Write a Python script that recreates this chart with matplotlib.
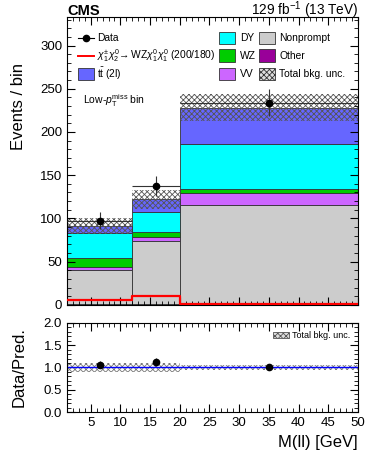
import numpy as np
import matplotlib.pyplot as plt
from matplotlib.patches import Patch, Rectangle
from matplotlib.lines import Line2D
from matplotlib.ticker import MultipleLocator

plt.rcParams['font.family'] = ['Liberation Sans', 'DejaVu Sans']
plt.rcParams['mathtext.fontset'] = 'custom'
plt.rcParams['mathtext.rm'] = 'Liberation Sans'
plt.rcParams['mathtext.it'] = 'Liberation Sans:italic'
plt.rcParams['hatch.linewidth'] = 0.6

# bins in M(ll)
edges = [1, 12, 20, 50]

# background yields (stacked bottom -> top)
other = [1.0, 1.0, 1.0]
nonprompt = [39.0, 73.0, 114.0]
vv = [3.5, 5.0, 14.5]
wz = [10.5, 5.0, 5.0]
dy = [29.0, 23.0, 51.5]
ttbar = [8.0, 15.0, 42.0]
unc = [9.0, 11.0, 15.5]

signal = [5.4, 10.0, 0.5]

data = [97.3, 137.6, 234.0]
data_err = [10.0, 12.0, 15.5]

ratio = [1.06, 1.12, 1.02]
ratio_err = [0.08, 0.09, 0.06]
ratio_unc = [0.11, 0.10, 0.06]

fig = plt.figure(figsize=(3.74, 4.53), dpi=100)
ax = fig.add_axes([0.179, 0.327, 0.778, 0.6355])
rax = fig.add_axes([0.179, 0.090, 0.778, 0.1976])

lefts = np.array(edges[:-1])
widths = np.diff(edges)
centers = lefts + widths / 2.0

stack = [(other, '#990099'),
         (nonprompt, '#cccccc'),
         (vv, '#cc66ff'),
         (wz, '#00cc00'),
         (dy, '#00ffff'),
         (ttbar, '#6666ff')]

bottom = np.zeros(3)
for vals, col in stack:
    ax.bar(lefts, vals, width=widths, bottom=bottom, align='edge', color=col,
           edgecolor='#333333', linewidth=0.6)
    bottom = bottom + np.array(vals)
total = bottom

ax.bar(lefts, 2 * np.array(unc), width=widths, bottom=total - np.array(unc),
       align='edge', facecolor='none', edgecolor='#555555', hatch='xxxxxx',
       linewidth=0)

sig_x = edges
sig_y = signal + [signal[-1]]
ax.step(sig_x, sig_y, where='post', color='red', linewidth=1.6, zorder=5)

ax.errorbar(centers, data, yerr=data_err, xerr=widths / 2.0, fmt='o', color='black',
            ecolor='#333333', elinewidth=0.8, markersize=4.5, zorder=6)

ax.set_xlim(1, 50)
ax.set_ylim(0, 333)
ax.set_ylabel('Events / bin', fontsize=12)
ax.yaxis.set_label_coords(-0.14, 0.69)
ax.yaxis.set_major_locator(MultipleLocator(50))
ax.yaxis.set_minor_locator(MultipleLocator(10))
ax.xaxis.set_major_locator(MultipleLocator(5))
ax.xaxis.set_minor_locator(MultipleLocator(1))
ax.tick_params(axis='both', which='both', direction='in', top=True, right=True,
               labelsize=9.5)
ax.tick_params(which='major', length=6)
ax.tick_params(which='minor', length=3)
ax.tick_params(axis='x', labelbottom=False)

ax.text(0.0, 1.007, 'CMS', transform=ax.transAxes, fontsize=10.5, fontweight='bold',
        ha='left', va='baseline')
ax.text(1.0, 1.007, r'129 fb$^{-1}$ (13 TeV)', transform=ax.transAxes, fontsize=9.8,
        ha='right', va='baseline')
ax.text(0.054, 0.709, r'Low-$p_{\mathrm{T}}^{\mathrm{miss}}$ bin', transform=ax.transAxes,
        fontsize=7.5, ha='left', va='center')

# legend drawn by hand so rows line up across columns
lfs = 7.4
rows = [0.927, 0.865, 0.802]
bw, bh = 0.055, 0.045


def box(x, y, fc, hatch=None):
    ax.add_patch(Rectangle((x, y - bh / 2), bw, bh, transform=ax.transAxes,
                           facecolor=fc, edgecolor='#333333', linewidth=0.6,
                           hatch=hatch, clip_on=False, zorder=7))


ax.add_line(Line2D([0.038, 0.093], [rows[0], rows[0]], transform=ax.transAxes,
                   color='black', linewidth=0.8, zorder=7))
ax.add_line(Line2D([0.0655], [rows[0]], transform=ax.transAxes, color='black',
                   marker='o', markersize=4.5, zorder=7))
ax.text(0.103, rows[0], 'Data', transform=ax.transAxes, fontsize=lfs, va='center')
ax.add_line(Line2D([0.038, 0.093], [rows[1], rows[1]], transform=ax.transAxes,
                   color='red', linewidth=1.4, zorder=7))
ax.text(0.103, rows[1], r'$\chi_1^{\pm}\chi_2^0\!\rightarrow$WZ$\chi_1^0\chi_1^0$ (200/180)',
        transform=ax.transAxes, fontsize=lfs, va='center')
box(0.038, rows[2], '#6666ff')
ax.text(0.103, rows[2], r'$\mathrm{t\bar{t}}$ (2l)', transform=ax.transAxes,
        fontsize=lfs, va='center')

box(0.522, rows[0], '#00ffff')
ax.text(0.595, rows[0], 'DY', transform=ax.transAxes, fontsize=lfs, va='center')
box(0.522, rows[1], '#00cc00')
ax.text(0.595, rows[1], 'WZ', transform=ax.transAxes, fontsize=lfs, va='center')
box(0.522, rows[2], '#cc66ff')
ax.text(0.595, rows[2], 'VV', transform=ax.transAxes, fontsize=lfs, va='center')

box(0.660, rows[0], '#cccccc')
ax.text(0.729, rows[0], 'Nonprompt', transform=ax.transAxes, fontsize=lfs, va='center')
box(0.660, rows[1], '#990099')
ax.text(0.729, rows[1], 'Other', transform=ax.transAxes, fontsize=lfs, va='center')
box(0.660, rows[2], '#dddddd', hatch='xxxxxx')
ax.text(0.729, rows[2], 'Total bkg. unc.', transform=ax.transAxes, fontsize=lfs,
        va='center')

# ratio panel
rax.bar(lefts, 2 * np.array(ratio_unc), width=widths, bottom=1 - np.array(ratio_unc),
        align='edge', facecolor='none', edgecolor='#777777', hatch='xxxxxx', linewidth=0)
rax.axhline(1.0, color='blue', linewidth=1.0)
rax.errorbar(centers, ratio, yerr=ratio_err, fmt='o', color='black', ecolor='#333333',
             elinewidth=0.8, markersize=4.5, zorder=6)
rax.set_xlim(1, 50)
rax.set_ylim(0, 2)
rax.yaxis.set_major_locator(MultipleLocator(0.5))
rax.yaxis.set_minor_locator(MultipleLocator(0.1))
rax.xaxis.set_minor_locator(MultipleLocator(1))
rax.set_xticks([5, 10, 15, 20, 25, 30, 35, 40, 45, 50])
rax.yaxis.set_major_formatter(plt.FormatStrFormatter('%.1f'))
rax.tick_params(axis='both', which='both', direction='in', top=True, right=True,
                labelsize=9.5)
rax.tick_params(which='major', length=6)
rax.tick_params(which='minor', length=3)
rax.set_ylabel('Data/Pred.', fontsize=12)
rax.yaxis.set_label_coords(-0.14, 0.5)
rax.set_xlabel('M(ll) [GeV]', fontsize=12, loc='right')
unc_patch = Patch(facecolor='#dddddd', edgecolor='#555555', hatch='xxxxxx', linewidth=0.6)
rax.legend([unc_patch], ['Total bkg. unc.'], loc='upper right', frameon=False,
           fontsize=6.5, handlelength=1.8, handletextpad=0.3)

fig.savefig('out.png', dpi=100)
